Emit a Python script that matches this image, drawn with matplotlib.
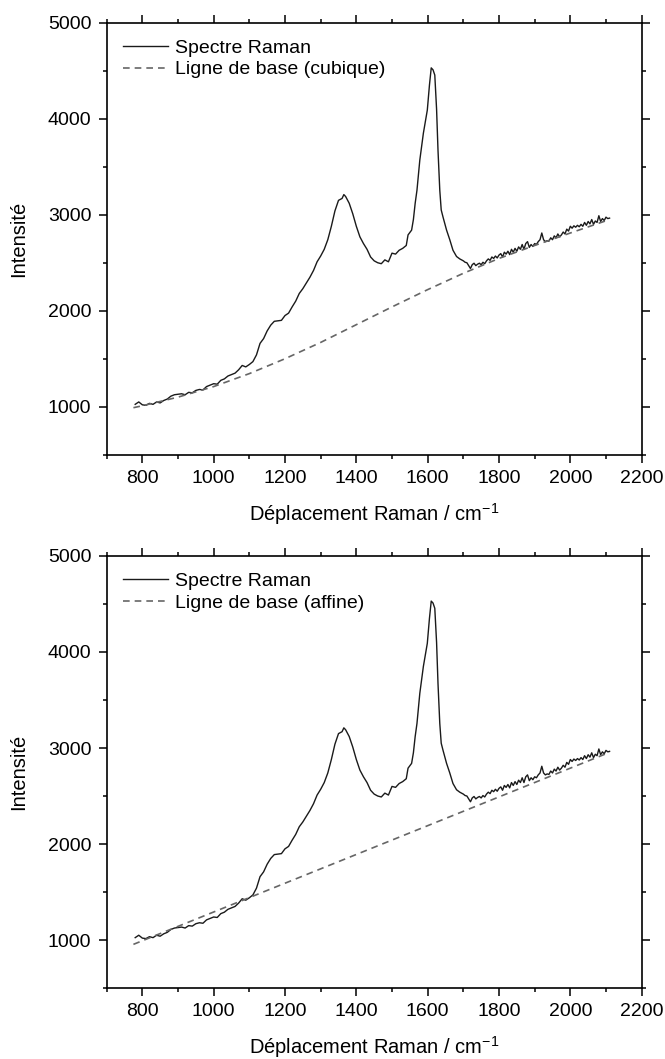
import matplotlib
matplotlib.use("Agg")
import matplotlib.pyplot as plt
from matplotlib.ticker import MultipleLocator

plt.rcParams['font.family'] = ['Liberation Sans', 'DejaVu Sans']

# Raman shift (cm-1) and intensity
shift = [780, 790, 800, 810, 820, 830, 840, 850, 860, 870, 880, 890, 900, 910, 920, 930, 940, 950,
         960, 970, 980, 990, 1000, 1010, 1020, 1030, 1040, 1050, 1060, 1070, 1080, 1090, 1100, 1110,
         1120, 1130, 1140, 1150, 1160, 1170, 1180, 1190, 1200, 1210, 1220, 1230, 1240, 1250, 1260,
         1270, 1280, 1290, 1300, 1310, 1320, 1330, 1340, 1350, 1360, 1365, 1370, 1380, 1390, 1400,
         1410, 1420, 1430, 1440, 1450, 1460, 1470, 1480, 1490, 1500, 1510, 1520, 1530, 1540, 1545,
         1555, 1560, 1565, 1570, 1578, 1588, 1599, 1605, 1610, 1615, 1620, 1625, 1629, 1634, 1638,
         1643, 1653, 1662, 1671, 1681, 1690,
         1700, 1705, 1710, 1715, 1720, 1725, 1730, 1735, 1740, 1745, 1750, 1755, 1760, 1765, 1770,
         1775, 1780, 1785, 1790, 1795, 1800, 1805, 1810, 1815, 1820, 1825, 1830, 1835, 1840, 1845,
         1850, 1855, 1860, 1865, 1870, 1875, 1880, 1885, 1890, 1895, 1900, 1905, 1910, 1915, 1920,
         1925, 1930, 1935, 1940, 1945, 1950, 1955, 1960, 1965, 1970, 1975, 1980, 1985, 1990, 1995,
         2000, 2005, 2010, 2015, 2020, 2025, 2030, 2035, 2040, 2045, 2050, 2055, 2060, 2065, 2070,
         2075, 2080, 2085, 2090, 2095, 2100, 2105, 2110]
intensity = [1025, 1050, 1020, 1015, 1035, 1025, 1050, 1040, 1065, 1080, 1110, 1125, 1130, 1135,
             1125, 1150, 1145, 1170, 1180, 1175, 1210, 1225, 1240, 1235, 1275, 1290, 1320, 1335,
             1350, 1385, 1430, 1415, 1440, 1470, 1540, 1660, 1710, 1790, 1850, 1890, 1895, 1900,
             1950, 1975, 2040, 2100, 2180, 2230, 2290, 2350, 2420, 2510, 2570, 2640, 2740, 2880,
             3040, 3150, 3170, 3210, 3190, 3120, 3010, 2880, 2770, 2700, 2640, 2560, 2520, 2500,
             2490, 2530, 2510, 2600, 2590, 2630, 2650, 2680, 2790,
             2840, 2950, 3120, 3255, 3570, 3850, 4090, 4350, 4530, 4510, 4455, 4100, 3670, 3255, 3050,
             2977, 2840, 2740, 2630, 2565, 2540,
             2520, 2505, 2500, 2470, 2440, 2480, 2495, 2470, 2485, 2495, 2480, 2505, 2490, 2520, 2540,
             2525, 2560, 2545, 2570, 2550, 2580, 2595, 2560, 2610, 2590, 2620, 2585, 2640, 2610, 2650,
             2620, 2665, 2640, 2690, 2640, 2700, 2720, 2660, 2690, 2670, 2700, 2690, 2720, 2740, 2810,
             2740, 2720, 2730, 2725, 2760, 2740, 2780, 2760, 2800, 2770, 2790, 2820, 2800, 2850, 2830,
             2880, 2860, 2885, 2870, 2890, 2875, 2900, 2880, 2920, 2890, 2930, 2905, 2950, 2900, 2935,
             2920, 2990, 2930, 2960, 2940, 2975, 2960, 2965]

# Cubic baseline
cubic_x = [775, 800, 900, 1000, 1100, 1200, 1300, 1400, 1500, 1600, 1700, 1800, 1900, 2000, 2110]
cubic_y = [990, 1010, 1100, 1210, 1345, 1500, 1670, 1855, 2040, 2220, 2390, 2545, 2680, 2810, 2950]

# Affine baseline
affine_x = [775, 2110]
affine_y = [955, 2955]

baselines = [("Ligne de base (cubique)", cubic_x, cubic_y),
             ("Ligne de base (affine)", affine_x, affine_y)]

fig = plt.figure(figsize=(6.65, 10.59), dpi=100)
positions = [[0.1604, 0.5706, 0.8045, 0.4079], [0.1604, 0.067, 0.8045, 0.408]]

for pos, (lab, bx, by) in zip(positions, baselines):
    ax = fig.add_axes(pos)
    ax.plot(shift, intensity, color='#1a1a1a', lw=1.0, label='Spectre Raman')
    ax.plot(bx, by, color='#666666', lw=1.2, ls=(0, (4, 3)), label=lab)
    ax.set_xlim(700, 2200)
    ax.set_ylim(500, 5000)
    ax.xaxis.set_major_locator(MultipleLocator(200))
    ax.xaxis.set_minor_locator(MultipleLocator(100))
    ax.yaxis.set_major_locator(MultipleLocator(1000))
    ax.yaxis.set_minor_locator(MultipleLocator(500))
    ax.tick_params(which='both', direction='out', top=True, right=True,
                   labeltop=False, labelright=False, width=1.1, labelsize=14)
    ax.tick_params(which='major', length=6, pad=5)
    ax.tick_params(which='minor', length=3)
    for s in ax.spines.values():
        s.set_linewidth(1.2)
    ax.set_xlabel('Déplacement Raman / cm$^{\\mathregular{-1}}$', fontsize=14.5, labelpad=10)
    ax.set_ylabel('Intensité', fontsize=14.5, labelpad=14)
    ax.legend(loc='upper left', frameon=False, fontsize=14, handlelength=2.3,
              handletextpad=0.36, labelspacing=0.2, borderaxespad=0.45)

fig.savefig('out.png', dpi=100)
